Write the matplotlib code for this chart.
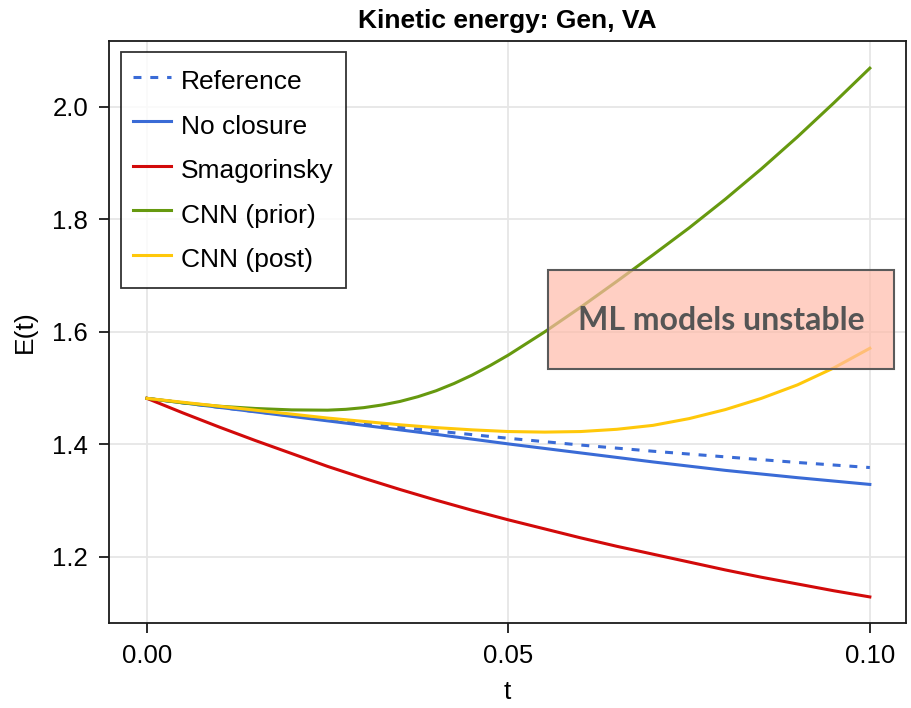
import matplotlib
matplotlib.use("Agg")
import matplotlib.pyplot as plt
from matplotlib.patches import Rectangle

# ---------------------------------------------------------------------------
# Data
# ---------------------------------------------------------------------------
t_coarse = [0.00, 0.01, 0.02, 0.03, 0.04, 0.05, 0.06, 0.07, 0.08, 0.09, 0.10]
t_fine = [0.000, 0.005, 0.010, 0.015, 0.020, 0.025, 0.030, 0.035, 0.040, 0.045,
          0.050, 0.055, 0.060, 0.065, 0.070, 0.075, 0.080, 0.085, 0.090, 0.095,
          0.100]
# CNN (prior) bends sharply between 0.025 and 0.05, so it is read more densely there
t_prior = [0.000, 0.005, 0.010, 0.015, 0.020, 0.025, 0.0275, 0.030, 0.0325,
           0.035, 0.0375, 0.040, 0.0425, 0.045, 0.0475, 0.050, 0.055, 0.060,
           0.065, 0.070, 0.075, 0.080, 0.085, 0.090, 0.095, 0.100]

e_reference = [1.482, 1.466, 1.451, 1.437, 1.424, 1.411, 1.399, 1.388, 1.378, 1.368, 1.359]
e_no_closure = [1.482, 1.466, 1.450, 1.434, 1.418, 1.401, 1.385, 1.369, 1.354, 1.341, 1.329]
e_smagorinsky = [1.482, 1.456, 1.431, 1.407, 1.384, 1.361, 1.340, 1.320, 1.301,
                 1.283, 1.266, 1.250, 1.234, 1.219, 1.205, 1.191, 1.177, 1.164,
                 1.152, 1.140, 1.129]
e_cnn_prior = [1.482, 1.474, 1.468, 1.464, 1.4615, 1.461, 1.4625, 1.4655, 1.4702,
               1.4765, 1.485, 1.4955, 1.5085, 1.5235, 1.5405, 1.559, 1.600, 1.644,
               1.690, 1.737, 1.785, 1.836, 1.890, 1.947, 2.007, 2.069]
e_cnn_post = [1.482, 1.475, 1.468, 1.461, 1.454, 1.447, 1.441, 1.435, 1.430,
              1.426, 1.423, 1.422, 1.423, 1.427, 1.434, 1.446, 1.462, 1.482,
              1.506, 1.536, 1.571]

labels = ["Reference", "No closure", "Smagorinsky", "CNN (prior)", "CNN (post)"]
colors = ["#3A6BD6", "#3A6BD6", "#D20A0A", "#66990F", "#FFC80A"]

# annotation region (t range, E range) and its text
note_text = "ML models unstable"
note_t = (0.05546, 0.10332)
note_e = (1.5337, 1.7102)

# ---------------------------------------------------------------------------
# Figure
# ---------------------------------------------------------------------------
plt.rcParams["font.family"] = ["Liberation Sans", "DejaVu Sans"]
FS = 19
TICK_FS = 18.5

fig = plt.figure(figsize=(9.12, 7.08), dpi=100)
ax = fig.add_axes([0.1195, 0.1201, 0.8739, 0.8220])

lw = 2.2
ax.plot(t_coarse, e_reference, color=colors[0], lw=lw, dashes=(2.6, 2.9),
        label=labels[0], zorder=3)
ax.plot(t_coarse, e_no_closure, color=colors[1], lw=lw, label=labels[1], zorder=3)
ax.plot(t_fine, e_smagorinsky, color=colors[2], lw=lw, label=labels[2], zorder=3)
ax.plot(t_prior, e_cnn_prior, color=colors[3], lw=lw, label=labels[3], zorder=3)
ax.plot(t_fine, e_cnn_post, color=colors[4], lw=lw, label=labels[4], zorder=3)

ax.set_xlim(-0.00525, 0.105)
ax.set_ylim(1.0827, 2.1173)
ax.set_xticks([0.0, 0.05, 0.10])
ax.set_xticklabels(["0.00", "0.05", "0.10"])
ax.set_yticks([1.2, 1.4, 1.6, 1.8, 2.0])
ax.set_yticklabels(["1.2", "1.4", "1.6", "1.8", "2.0"])

ax.grid(True, color="#e6e6e6", lw=1.3, zorder=0)
ax.set_axisbelow(True)
for sp in ax.spines.values():
    sp.set_linewidth(1.3)
    sp.set_color("#1a1a1a")
ax.tick_params(axis="both", direction="out", length=7, width=1.3,
               labelsize=TICK_FS, pad=8, color="#1a1a1a")

ax.set_title("Kinetic energy: Gen, VA", fontsize=FS, fontweight="bold", pad=9)
ax.set_xlabel("t", fontsize=FS, labelpad=9)
ax.set_ylabel("E(t)", fontsize=FS, labelpad=11)

# translucent box over the curves
box = Rectangle((note_t[0], note_e[0]), note_t[1] - note_t[0], note_e[1] - note_e[0],
                facecolor=(1.0, 0.73, 0.66, 0.69), edgecolor="#5a5a5a",
                linewidth=1.5, zorder=5)
ax.add_patch(box)
ax.text(sum(note_t) / 2, sum(note_e) / 2 - 0.002, note_text,
        family=["Lato", "DejaVu Sans"], fontweight="bold", fontsize=23,
        color="#555555", ha="center", va="center", zorder=6)

leg = ax.legend(loc="upper left", bbox_to_anchor=(0.01506, 0.9811),
                borderaxespad=0, fontsize=FS, frameon=True, fancybox=False,
                handlelength=1.45, handletextpad=0.38, labelspacing=0.4,
                handleheight=1.6, borderpad=0.45)
leg.get_frame().set_edgecolor("black")
leg.get_frame().set_linewidth(1.3)
leg.set_zorder(7)

fig.savefig("out.png", dpi=100)
